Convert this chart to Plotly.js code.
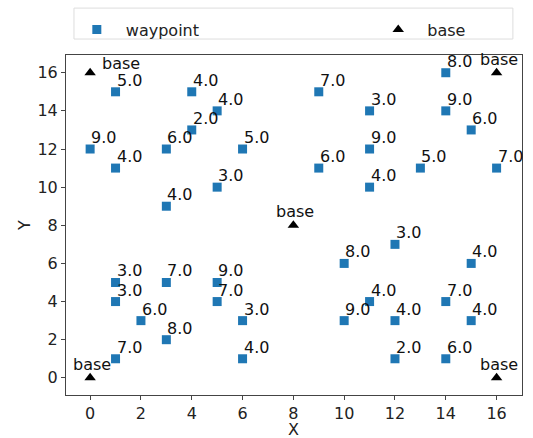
<!DOCTYPE html>
<html>
<head>
<meta charset="utf-8">
<script src="https://cdn.plot.ly/plotly-3.0.1.min.js"></script>
<style>html,body{margin:0;padding:0;background:#fff}#chart{width:533px;height:438px}</style>
</head>
<body>
<div id="chart"></div>
<script>
var wpX = [1,4,5,4,0,3,6,1,5,3, 9,11,14,14,15,11,9,13,16,11, 1,3,5,1,5,2,6,3,1,6, 12,10,15,11,14,10,12,15,12,14];
var wpY = [15,15,14,13,12,12,12,11,10,9, 15,14,16,14,13,12,11,11,11,10, 5,5,5,4,4,3,3,2,1,1, 7,6,6,4,4,3,3,3,1,1];
var wpVal = [5,4,4,2,9,6,5,4,3,4, 7,3,8,9,6,9,6,5,7,4, 3,7,9,3,7,6,3,8,7,4, 3,8,4,4,7,9,4,4,2,6];
var baseX = [0,0,16,16,8];
var baseY = [0,16,0,16,8];
var baseLabel = ['base','base','base','base','base'];
var xTicks = [0,2,4,6,8,10,12,14,16];
var yTicks = [0,2,4,6,8,10,12,14,16];
var xTitle = 'X';
var yTitle = 'Y';

var FONT = 'DejaVu Sans, sans-serif';
var FS = 16;
var traces = [
  {x: wpX, y: wpY, type: 'scatter', mode: 'markers', name: 'waypoint', legend: 'legend',
   marker: {symbol: 'square', size: 9, color: '#1f77b4'}, hoverinfo: 'skip'},
  {x: baseX, y: baseY, type: 'scatter', mode: 'markers', name: 'base', legend: 'legend2',
   marker: {symbol: 'triangle-up', size: 10, color: '#000000'}, hoverinfo: 'skip'}
];

var annotations = [];
for (var i = 0; i < wpX.length; i++) {
  annotations.push({x: wpX[i], y: wpY[i], xref: 'x', yref: 'y', text: wpVal[i].toFixed(1),
    showarrow: false, xanchor: 'left', yanchor: 'bottom', xshift: 0, yshift: 1, borderpad: 0,
    font: {family: FONT, size: FS, color: '#111'}});
}
for (var j = 0; j < baseX.length; j++) {
  var topLeft = (baseX[j] === 0 && baseY[j] === 16);
  annotations.push({x: baseX[j], y: baseY[j], xref: 'x', yref: 'y', text: baseLabel[j],
    showarrow: false, xanchor: topLeft ? 'left' : 'center', yanchor: 'bottom', borderpad: 0,
    xshift: topLeft ? 11 : 2, yshift: topLeft ? -1 : 3,
    font: {family: FONT, size: FS, color: '#111'}});
}
annotations.push({x: 8, y: -0.1324, xref: 'x', yref: 'paper', text: xTitle,
  showarrow: false, xanchor: 'center', yanchor: 'bottom', borderpad: 0,
  font: {family: FONT, size: FS, color: '#222'}});

var axCommon = {
  showgrid: false, zeroline: false, showline: true, mirror: true,
  linecolor: '#444', linewidth: 1, ticks: 'outside', ticklen: 4, tickcolor: '#444',
  tickfont: {family: FONT, size: FS, color: '#222'}
};

var legCommon = {orientation: 'h', xanchor: 'left', y: 1.125, yanchor: 'top', itemwidth: 48,
  bgcolor: 'rgba(0,0,0,0)', borderwidth: 0, font: {family: FONT, size: FS, color: '#222'}};

var layout = {
  width: 533, height: 438,
  margin: {l: 66, r: 11, t: 55, b: 43},
  paper_bgcolor: '#fff', plot_bgcolor: '#fff',
  font: {family: FONT, color: '#222'},
  xaxis: Object.assign({}, axCommon, {range: [-0.95, 17.0], tickvals: xTicks,
    ticktext: xTicks.map(String)}),
  yaxis: Object.assign({}, axCommon, {range: [-0.9, 16.93], tickvals: yTicks,
    ticktext: yTicks.map(String), title: {text: yTitle, font: {family: FONT, size: FS, color: '#222'}, standoff: 2}}),
  showlegend: true,
  legend: Object.assign({}, legCommon, {x: 0.004}),
  legend2: Object.assign({}, legCommon, {x: 0.665}),
  shapes: [{type: 'rect', xref: 'paper', yref: 'paper', x0: 0.0175, x1: 0.98, y0: 1.047, y1: 1.138,
    line: {color: '#dddddd', width: 1}, fillcolor: 'rgba(255,255,255,0)'}],
  annotations: annotations
};

Plotly.newPlot('chart', traces, layout, {displayModeBar: false, staticPlot: true});
</script>
</body>
</html>
